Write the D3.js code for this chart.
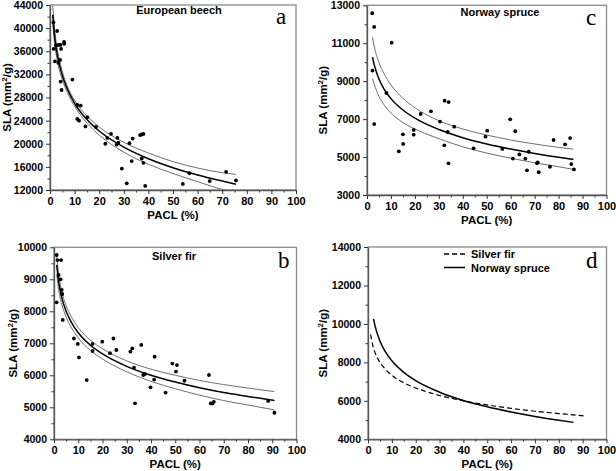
<!DOCTYPE html>
<html lang="en">
<head>
<meta charset="UTF-8">
<title>SLA vs PACL</title>
<script src="https://d3js.org/d3.v7.min.js"></script>
<style>
  body { margin: 0; padding: 0; background: #fff; font-family: "Liberation Sans", Arial, sans-serif; }
  .tick text { font-size: 10.5px; font-weight: bold; fill: #000; }
  .xax .tick text { font-size: 11px; }
  .tick line { stroke: #333; }
  .lbl { font-size: 11.5px; font-weight: bold; }
  .title { font-size: 11px; font-weight: bold; }
  .letter { font-family: "Liberation Serif", "Times New Roman", serif; font-size: 23px; }
</style>
</head>
<body>
<script>
// European beech: measured points
const beechPACL = [1.4, 2.9, 1.5, 2.4, 3.4, 4.3, 4.5, 5.7, 5.8, 2.0, 3.4, 4.1, 4.3, 4.7, 9.1, 11.1, 12.5, 11.1, 11.8, 14.4,
  15.2, 18.7, 22.5, 23.3, 24.8, 27.4, 27.1, 27.8, 32.3, 33.6, 36.6, 37.3, 38.0, 29.2, 33.2, 37.3, 38.0, 31.2, 38.7, 54.0,
  56.7, 64.9, 71.6, 75.6];
const beechSLA = [41000, 39500, 36400, 37000, 37100, 37100, 36400, 37600, 37300, 34250, 34000, 34500, 30750, 29300, 31100, 26700, 26600, 24300, 24000, 23000,
  24600, 22900, 20000, 21000, 21700, 21000, 19850, 20200, 20100, 20900, 21500, 21600, 21700, 15700, 17000, 17450, 16700, 13150, 12700, 13050,
  14900, 13550, 15150, 13650];
// European beech: fitted curve and its bounds
const beechFitPACL = [1.1, 2, 3, 5, 7, 10, 15, 20, 30, 40, 50, 60, 70, 75.6];
const beechFitMid = [42300, 38100, 35300, 31800, 29500, 27000, 24200, 22200, 19400, 17400, 15850, 14600, 13550, 13000];
const beechFitUp = [43900, 39300, 36300, 32500, 30000, 27500, 24800, 22900, 20250, 18400, 16900, 15800, 15000, 14700];
const beechFitLow = [40800, 36900, 34300, 31100, 28900, 26500, 23600, 21500, 18550, 16450, 14850, 13450, 12100, 11600];

// Silver fir
const firPACL = [1.1, 1.4, 2.9, 1.1, 1.9, 2.7, 3.2, 3.4, 3.6, 8.2, 9.8, 10.3, 13.5, 15.9, 15.9, 19.9, 23.1, 24.5, 25.7, 31.5,
  32.3, 33.0, 33.4, 36.0, 36.8, 37.5, 39.8, 41.3, 41.5, 46.0, 48.8, 50.3, 50.7, 53.8, 63.9, 64.6, 65.3, 65.9, 88.3, 90.9];
const firSLA = [9760, 9600, 9600, 8280, 9135, 9000, 8670, 8540, 7730, 7150, 6980, 6560, 5850, 6980, 6760, 7050, 6690, 7150, 6790, 6740,
  6840, 6240, 5125, 6950, 6010, 6040, 5625, 5865, 6580, 5460, 6365, 6115, 6320, 5830, 6010, 5120, 5120, 5170, 5200, 4830];
const firFitPACL = [1.1, 2, 3, 5, 7, 10, 15, 20, 30, 40, 50, 60, 70, 80, 90.9];
const firFitMid = [9450, 8880, 8490, 8000, 7680, 7330, 6940, 6670, 6280, 6000, 5790, 5610, 5460, 5340, 5210];
const firFitUp = [9750, 9120, 8700, 8180, 7850, 7490, 7100, 6830, 6450, 6190, 6000, 5840, 5710, 5600, 5490];
const firFitLow = [9150, 8640, 8280, 7820, 7510, 7170, 6780, 6510, 6110, 5810, 5580, 5380, 5210, 5070, 4920];

// Norway spruce
const sprucePACL = [2.2, 3.0, 2.3, 3.0, 10.3, 8.1, 13.3, 15.0, 15.1, 19.5, 19.5, 22.4, 26.7, 30.5, 32.3, 32.4, 34.1, 33.7, 34.0, 36.4,
  44.5, 49.5, 50.2, 56.5, 59.8, 60.9, 61.9, 63.6, 66.1, 66.8, 67.5, 71.0, 71.3, 71.7, 76.4, 77.9, 82.7, 84.8, 85.3, 86.4];
const spruceSLA = [12580, 11860, 9560, 6740, 11030, 8380, 5300, 6200, 5690, 6430, 6180, 7270, 7410, 6870, 5620, 7970, 7900, 6320, 4670, 6600,
  5460, 6080, 6390, 5430, 6990, 4920, 6360, 5140, 4920, 4300, 5280, 4680, 4720, 4200, 4490, 5900, 5670, 6000, 4630, 4350];
const spruceFitPACL = [2.3, 3, 5, 7, 10, 15, 20, 30, 40, 50, 60, 70, 80, 86.2];
const spruceFitMid = [10260, 9870, 9110, 8610, 8080, 7480, 7050, 6450, 6020, 5690, 5420, 5190, 4990, 4880];
const spruceFitUp = [11310, 10850, 9980, 9420, 8800, 8100, 7600, 6920, 6480, 6160, 5900, 5690, 5510, 5420];
const spruceFitLow = [9130, 8850, 8200, 7780, 7330, 6820, 6480, 5970, 5540, 5210, 4940, 4700, 4490, 4350];

const xTicks = [0, 10, 20, 30, 40, 50, 60, 70, 80, 90, 100];
const beechTicks = [12000, 16000, 20000, 24000, 28000, 32000, 36000, 40000, 44000];
const spruceTicks = [3000, 5000, 7000, 9000, 11000, 13000];
const firTicks = [4000, 5000, 6000, 7000, 8000, 9000, 10000];
const compTicks = [4000, 6000, 8000, 10000, 12000, 14000];

const svg = d3.select("body").append("svg")
  .attr("width", 616).attr("height", 471);

const zip = (xs, ys) => xs.map((v, i) => [v, ys[i]]);

function drawPanel(p) {
  const x = d3.scaleLinear().domain([0, 100]).range([p.left, p.right]);
  const y = d3.scaleLinear().domain(p.yDomain).range([p.bottom, p.top]);
  const g = svg.append("g");

  svg.append("clipPath").attr("id", "clip-" + p.key)
    .append("rect")
    .attr("x", p.left).attr("y", p.top)
    .attr("width", p.right - p.left).attr("height", p.bottom - p.top);

  // cadre gris
  g.append("rect")
    .attr("x", p.left).attr("y", p.top)
    .attr("width", p.right - p.left).attr("height", p.bottom - p.top)
    .attr("fill", "none").attr("stroke", "#8a8a8a").attr("stroke-width", 1.3);

  // petites graduations
  const xMinor = d3.range(5, 100, 10);
  const yStep = p.yTicks[1] - p.yTicks[0];
  const yMinor = p.yTicks.slice(0, -1).map(v => v + yStep / 2);

  g.append("g").attr("transform", `translate(0,${p.bottom})`)
    .call(d3.axisBottom(x).tickValues(xMinor).tickSize(2.5).tickSizeOuter(0).tickFormat(""))
    .call(a => a.select(".domain").remove());
  g.append("g").attr("transform", `translate(${p.left},0)`)
    .call(d3.axisLeft(y).tickValues(yMinor).tickSize(2.5).tickSizeOuter(0).tickFormat(""))
    .call(a => a.select(".domain").remove());

  g.append("g").attr("class", "xax").attr("transform", `translate(0,${p.bottom})`)
    .call(d3.axisBottom(x).tickValues(xTicks).tickSize(4).tickSizeOuter(0).tickPadding(3))
    .call(a => a.select(".domain").attr("stroke", "#555").attr("stroke-width", 1.3));
  g.append("g").attr("transform", `translate(${p.left},0)`)
    .call(d3.axisLeft(y).tickValues(p.yTicks).tickSize(4).tickSizeOuter(0).tickPadding(3).tickFormat(d3.format("d")))
    .call(a => a.select(".domain").attr("stroke", "#555").attr("stroke-width", 1.3));

  // titres des axes
  g.append("text").attr("class", "lbl")
    .attr("x", (p.left + p.right) / 2).attr("y", p.bottom + 28.5)
    .attr("text-anchor", "middle").text("PACL (%)");
  const yl = g.append("text").attr("class", "lbl")
    .attr("transform", `translate(${p.yLabelX},${(p.top + p.bottom) / 2}) rotate(-90)`)
    .attr("text-anchor", "middle");
  yl.append("tspan").text("SLA (mm");
  yl.append("tspan").attr("dy", -4).attr("font-size", 8).text("2");
  yl.append("tspan").attr("dy", 4).text("/g)");

  g.append("text").attr("class", "letter")
    .attr("x", p.letterX).attr("y", p.letterY).text(p.letter);
  if (p.title) {
    g.append("text").attr("class", "title")
      .attr("x", p.titleX).attr("y", p.titleY)
      .attr("text-anchor", "middle").text(p.title);
  }

  const line = d3.line().x(d => x(d[0])).y(d => y(d[1])).curve(d3.curveMonotoneX);
  const plot = g.append("g").attr("clip-path", `url(#clip-${p.key})`);
  (p.curves || []).forEach(c => {
    plot.append("path")
      .attr("d", line(zip(c.xs, c.ys)))
      .attr("fill", "none")
      .attr("stroke", c.color)
      .attr("stroke-width", c.width)
      .attr("stroke-dasharray", c.dash || null);
  });
  if (p.points) {
    plot.selectAll("circle").data(p.points).join("circle")
      .attr("cx", d => x(d[0])).attr("cy", d => y(d[1]))
      .attr("r", 1.9).attr("fill", "#000");
  }
  return { x, y, g };
}

const bandCurves = (xs, mid, up, low) => [
  { xs, ys: up, color: "#6e6e6e", width: 1 },
  { xs, ys: low, color: "#6e6e6e", width: 1 },
  { xs, ys: mid, color: "#000", width: 1.5 }
];

drawPanel({
  key: "a", left: 50, right: 296, top: 5, bottom: 190,
  yDomain: [12000, 44000], yTicks: beechTicks, yLabelX: 11,
  letter: "a", letterX: 276, letterY: 24,
  title: "European beech", titleX: 179, titleY: 14,
  points: zip(beechPACL, beechSLA),
  curves: bandCurves(beechFitPACL, beechFitMid, beechFitUp, beechFitLow)
});

drawPanel({
  key: "c", left: 367, right: 606.5, top: 5.3, bottom: 195,
  yDomain: [3000, 13000], yTicks: spruceTicks, yLabelX: 327,
  letter: "c", letterX: 586, letterY: 25,
  title: "Norway spruce", titleX: 500, titleY: 15.5,
  points: zip(sprucePACL, spruceSLA),
  curves: bandCurves(spruceFitPACL, spruceFitMid, spruceFitUp, spruceFitLow)
});

drawPanel({
  key: "b", left: 54, right: 296.5, top: 247.3, bottom: 439.3,
  yDomain: [4000, 10000], yTicks: firTicks, yLabelX: 17,
  letter: "b", letterX: 278, letterY: 268,
  title: "Silver fir", titleX: 174, titleY: 260,
  points: zip(firPACL, firSLA),
  curves: bandCurves(firFitPACL, firFitMid, firFitUp, firFitLow)
});

const d = drawPanel({
  key: "d", left: 368, right: 606.5, top: 247, bottom: 439.3,
  yDomain: [4000, 14000], yTicks: compTicks, yLabelX: 327,
  letter: "d", letterX: 586, letterY: 268,
  curves: [
    { xs: firFitPACL, ys: firFitMid, color: "#000", width: 1.2, dash: "5,3" },
    { xs: spruceFitPACL, ys: spruceFitMid, color: "#000", width: 1.5 }
  ]
});

// légende du panneau d
const legend = [
  { name: "Silver fir", dash: "5,3", y: 254 },
  { name: "Norway spruce", dash: null, y: 267.5 }
];
legend.forEach(l => {
  d.g.append("line")
    .attr("x1", 444).attr("x2", 465).attr("y1", l.y).attr("y2", l.y)
    .attr("stroke", "#000").attr("stroke-width", 1.5)
    .attr("stroke-dasharray", l.dash);
  d.g.append("text").attr("class", "title")
    .attr("x", 471).attr("y", l.y + 4).text(l.name);
});
</script>
</body>
</html>
